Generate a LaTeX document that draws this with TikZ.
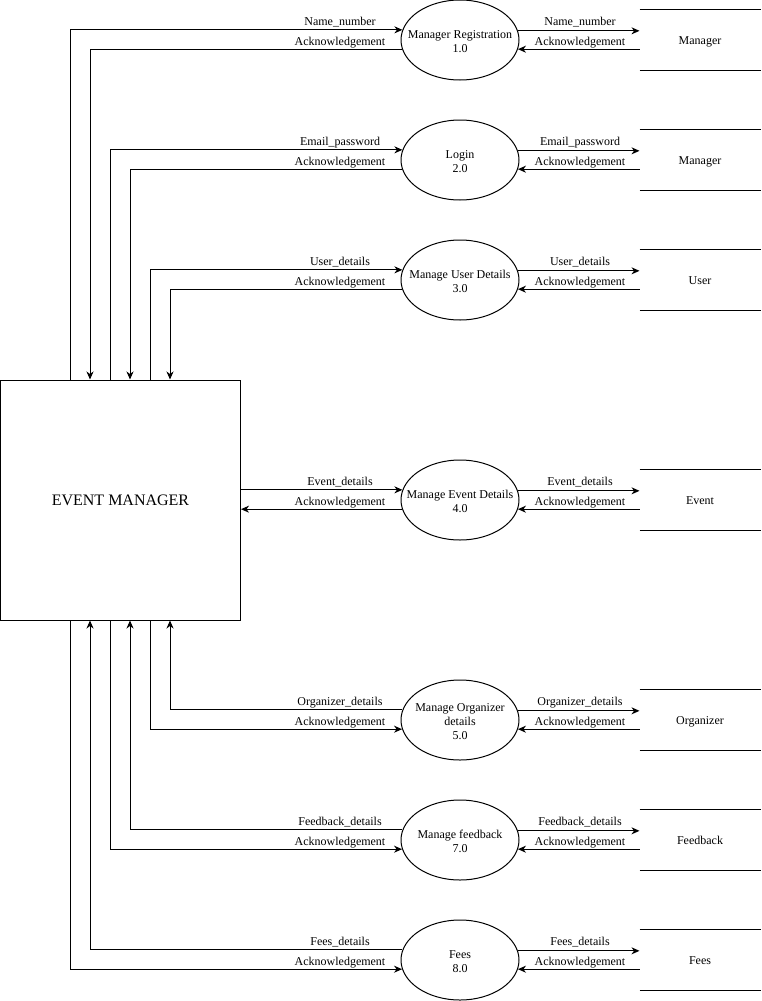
\documentclass[tikz,border=0pt]{standalone}
\usepackage{fontspec}
\setmainfont{Liberation Serif}
\newfontfamily\serfont{Liberation Serif}
\usetikzlibrary{arrows.meta,shapes.geometric,calc}
\begin{document}
\begin{tikzpicture}[x=1pt,y=-1pt,line width=1pt,
  every node/.style={font=\serfont\fontsize{12}{14}\selectfont},
  proc/.style={draw,ellipse,minimum width=118pt,minimum height=80pt,inner sep=0pt},
  ptext/.style={align=center,inner sep=0pt,yshift=-1.5pt},
  store/.style={minimum width=120pt,minimum height=60pt,inner sep=0pt,text height=9pt,text depth=0pt},
  lbl/.style={inner sep=0pt,text height=9pt,text depth=0pt},
  flow/.style={-{Stealth[length=8pt,width=7pt,inset=2.5pt]}},
  ]
\useasboundingbox (0,0) rectangle (761,1001);
\node[draw,minimum width=240pt,minimum height=240pt,inner sep=0pt,font=\serfont\fontsize{16}{19}\selectfont] (em) at (120.5,500) {EVENT MANAGER};

\node[proc] (p1) at (460,40) {};
\node[proc] (p2) at (460,160) {};
\node[proc] (p3) at (460,280) {};
\node[proc] (p4) at (460,500) {};
\node[proc] (p5) at (460,720) {};
\node[proc] (p7) at (460,840) {};
\node[proc] (p8) at (460,960) {};
\node[ptext] (t1) at (p1) {Manager Registration\\1.0};
\node[ptext] (t2) at (p2) {Login\\2.0};
\node[ptext] (t3) at (p3) {Manage User Details\\3.0};
\node[ptext] (t4) at (p4) {Manage Event Details\\4.0};
\node[ptext] (t5) at (p5) {Manage Organizer\\details\\5.0};
\node[ptext] (t7) at (p7) {Manage feedback\\7.0};
\node[ptext] (t8) at (p8) {Fees\\8.0};

\node[store] (s1) at (700,40) {Manager};
\node[store] (s2) at (700,160) {Manager};
\node[store] (s3) at (700,280) {User};
\node[store] (s4) at (700,500) {Event};
\node[store] (s5) at (700,720) {Organizer};
\node[store] (s7) at (700,840) {Feedback};
\node[store] (s8) at (700,960) {Fees};
\foreach \s in {s1,s2,s3,s4,s5,s7,s8}{
  \draw (\s.north west) -- (\s.north east);
  \draw (\s.south west) -- (\s.south east);
}

% connection points on the box
\foreach \i/\xx in {a/70,b/90,c/110,d/130,e/150,f/170}{
  \coordinate (t\i) at ($(em.north west)+(\xx,0)$);
  \coordinate (b\i) at ($(em.south west)+(\xx,0)$);
}

% right side flows (process <-> store)
\foreach \p/\s in {p1/s1,p2/s2,p3/s3,p4/s4,p5/s5,p7/s7,p8/s8}{
  \draw[flow] (\p.9.6) -- (\s.west |- \p.9.6);
  \draw[flow] (\s.west |- \p.-9.6) -- (\p.-9.6);
}

% top flows
\draw[flow] (ta) |- (p1.170.4);
\draw[flow] (p1.189.6) -| (tb);
\draw[flow] (tc) |- (p2.170.4);
\draw[flow] (p2.189.6) -| (td);
\draw[flow] (te) |- (p3.170.4);
\draw[flow] (p3.189.6) -| (tf);

% event flows
\draw[flow] (em.east |- p4.170.4) -- (p4.170.4);
\draw[flow] (p4.189.6) -- (em.east |- p4.189.6);

% bottom flows
\draw[flow] (p5.170.4) -| (bf);
\draw[flow] (be) |- (p5.189.6);
\draw[flow] (p7.170.4) -| (bd);
\draw[flow] (bc) |- (p7.189.6);
\draw[flow] (p8.170.4) -| (bb);
\draw[flow] (ba) |- (p8.189.6);

% left labels
\node[lbl] (la1) at (340,20.5) {Name\_number};
\node[lbl] (la2) at (340,40.5) {Acknowledgement};
\node[lbl] (lb1) at (340,140.5) {Email\_password};
\node[lbl] (lb2) at (340,160.5) {Acknowledgement};
\node[lbl] (lc1) at (340,260.5) {User\_details};
\node[lbl] (lc2) at (340,280.5) {Acknowledgement};
\node[lbl] (ld1) at (340,480.5) {Event\_details};
\node[lbl] (ld2) at (340,500.5) {Acknowledgement};
\node[lbl] (le1) at (340,700.5) {Organizer\_details};
\node[lbl] (le2) at (340,720.5) {Acknowledgement};
\node[lbl] (lf1) at (340,820.5) {Feedback\_details};
\node[lbl] (lf2) at (340,840.5) {Acknowledgement};
\node[lbl] (lg1) at (340,940.5) {Fees\_details};
\node[lbl] (lg2) at (340,960.5) {Acknowledgement};

% right labels
\node[lbl] (ra1) at (580,20.5) {Name\_number};
\node[lbl] (ra2) at (580,40.5) {Acknowledgement};
\node[lbl] (rb1) at (580,140.5) {Email\_password};
\node[lbl] (rb2) at (580,160.5) {Acknowledgement};
\node[lbl] (rc1) at (580,260.5) {User\_details};
\node[lbl] (rc2) at (580,280.5) {Acknowledgement};
\node[lbl] (rd1) at (580,480.5) {Event\_details};
\node[lbl] (rd2) at (580,500.5) {Acknowledgement};
\node[lbl] (re1) at (580,700.5) {Organizer\_details};
\node[lbl] (re2) at (580,720.5) {Acknowledgement};
\node[lbl] (rf1) at (580,820.5) {Feedback\_details};
\node[lbl] (rf2) at (580,840.5) {Acknowledgement};
\node[lbl] (rg1) at (580,940.5) {Fees\_details};
\node[lbl] (rg2) at (580,960.5) {Acknowledgement};
\end{tikzpicture}
\end{document}
